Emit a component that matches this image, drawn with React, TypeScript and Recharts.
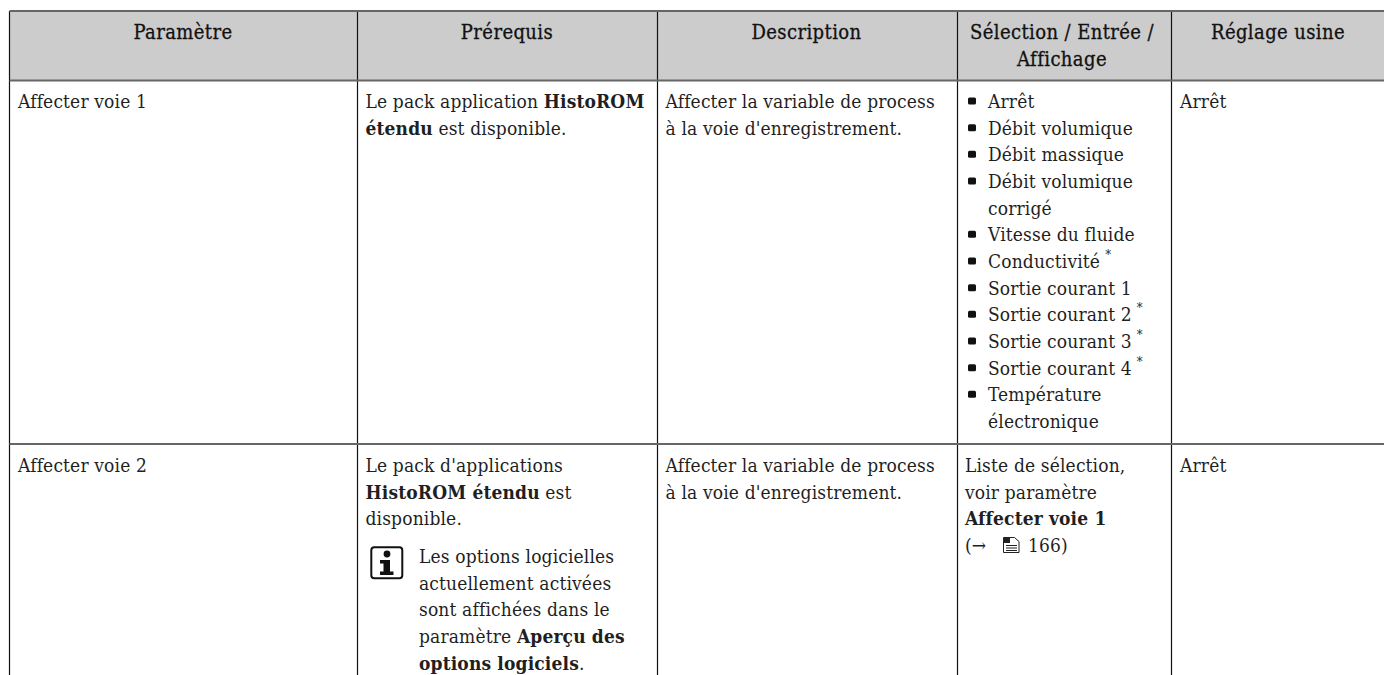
import React from "react";
import { ScatterChart, Scatter, XAxis, YAxis, ReferenceLine, ReferenceArea, ReferenceDot } from "recharts";

// table text, ** marks bold and ^ marks the superscript asterisk
const headerLabels = [
    ["Paramètre"],
    ["Prérequis"],
    ["Description"],
    ["Sélection / Entrée /", "Affichage"],
    ["Réglage usine"],
];
const row1Param = ["Affecter voie 1"];
const row1Prereq = ["Le pack application **HistoROM**", "**étendu** est disponible."];
const row1Desc = ["Affecter la variable de process", "à la voie d'enregistrement."];
const row1Options = [
    "Arrêt",
    "Débit volumique",
    "Débit massique",
    "Débit volumique",
    "corrigé",
    "Vitesse du fluide",
    "Conductivité^",
    "Sortie courant 1",
    "Sortie courant 2^",
    "Sortie courant 3^",
    "Sortie courant 4^",
    "Température",
    "électronique",
];
const row1ContinuedLines = [4, 12];
const row1Default = ["Arrêt"];
const row2Param = ["Affecter voie 2"];
const row2Prereq = ["Le pack d'applications", "**HistoROM étendu** est", "disponible."];
const row2Note = ["Les options logicielles", "actuellement activées", "sont affichées dans le", "paramètre **Aperçu des**", "**options logiciels**."];
const row2Desc = ["Affecter la variable de process", "à la voie d'enregistrement."];
const row2Selection = ["Liste de sélection,", "voir paramètre", "**Affecter voie 1**", "(→"];
const row2PageRef = ["166)"];
const row2Default = ["Arrêt"];

const WIDTH = 1384;
const HEIGHT = 675;
const FONT = "'DejaVu Serif Condensed', 'DejaVu Serif', serif";
const FONT_SIZE = 19;
const LINE = 26.67;
const columnEdges = [9.5, 357.5, 657.5, 957.5, 1171.5];
const headerCentres = [183, 507, 806.5, 1062, 1278];
const TOP = 11;
const HEADER_BOTTOM = 80.5;
const ROW_BOTTOM = 444;
const HEADER_BASE = 39;
const ROW1_BASE = 108;
const ROW2_BASE = 472;
const NOTE_BASE = 563;

type Cell = { x: number; y: number; text: string };

const place = (lines: string[], x: number, base: number): Cell[] =>
    lines.map((text, i) => ({ x, y: base + i * LINE, text }));

const headerCells: Cell[] = headerLabels.flatMap((lines, i) => place(lines, headerCentres[i], HEADER_BASE));
const optionCells = place(row1Options, 988, ROW1_BASE);
const bulletCells = optionCells.filter((_, i) => !row1ContinuedLines.includes(i)).map((c) => ({ ...c, x: 972 }));
const bodyCells: Cell[] = [
    ...place(row1Param, 18, ROW1_BASE),
    ...place(row1Prereq, 365.5, ROW1_BASE),
    ...place(row1Desc, 665.5, ROW1_BASE),
    ...optionCells,
    ...place(row1Default, 1180, ROW1_BASE),
    ...place(row2Param, 18, ROW2_BASE),
    ...place(row2Prereq, 365.5, ROW2_BASE),
    ...place(row2Note, 419, NOTE_BASE),
    ...place(row2Desc, 665.5, ROW2_BASE),
    ...place(row2Selection, 965, ROW2_BASE),
    ...place(row2PageRef, 1028, ROW2_BASE + 3 * LINE),
    ...place(row2Default, 1180, ROW2_BASE),
];

const spans = (text: string) => {
    const out: React.ReactNode[] = [];
    text.split("**").forEach((part, i) => {
        const bold = i % 2 === 1;
        const star = part.endsWith("^");
        const clean = star ? part.slice(0, -1) : part;
        if (clean) {
            out.push(
                <tspan key={i} fontWeight={bold ? 700 : 400}>
                    {clean}
                </tspan>
            );
        }
        if (star) {
            out.push(
                <tspan key={i + "s"} dx={5} dy={-9} fontSize={13}>
                    *
                </tspan>
            );
        }
    });
    return out;
};

const BodyText = (props: any) => (
    <text x={props.cx} y={props.cy} fontFamily={FONT} fontSize={FONT_SIZE} letterSpacing={0.15} fill="#1f1f1f">
        {spans(props.payload.text)}
    </text>
);

const HeaderText = (props: any) => (
    <text x={props.cx} y={props.cy} textAnchor="middle" fontFamily={FONT} fontSize={20} letterSpacing={0.4} fill="#111" stroke="#111" strokeWidth={0.3}>
        {props.payload.text}
    </text>
);

const Bullet = (props: any) => (
    <rect x={props.cx - 4} y={props.cy - 10.5} width={8} height={7} rx={1.5} fill="#111" />
);

const InfoIcon = (props: any) => (
    <g transform={`translate(${props.cx},${props.cy})`}>
        <rect x={0.8} y={0.8} width={31} height={31} rx={3} fill="#fff" stroke="#111" strokeWidth={2} />
        <circle cx={16.5} cy={7.5} r={3.4} fill="#111" />
        <path d="M9.5 13.5h10v11.5h3.5v3.5H9.5V25h3.5v-8H9.5z" fill="#111" />
    </g>
);

const DocIcon = (props: any) => (
    <g transform={`translate(${props.cx},${props.cy})`} fill="none" stroke="#222" strokeWidth={1}>
        <path d="M0.5 0.5h11l4.5 4v11H0.5z" fill="#fff" />
        <path d="M1 1h6v5H1z" fill="#222" stroke="none" />
        <path d="M3 8.5h11M3 11h11M3 13.5h11" />
    </g>
);

const App = () => (
    <div style={{ position: "absolute", left: 0, top: 0 }}>
        <ScatterChart width={WIDTH} height={HEIGHT} margin={{ top: 0, right: 0, bottom: 0, left: 0 }}>
            <XAxis type="number" dataKey="x" domain={[0, WIDTH]} hide />
            <YAxis type="number" dataKey="y" domain={[0, HEIGHT]} reversed hide />
            <ReferenceArea x1={columnEdges[0]} x2={WIDTH} y1={TOP} y2={HEADER_BOTTOM} fill="#cccccc" fillOpacity={1} stroke="none" />
            {columnEdges.map((x) => (
                <ReferenceLine key={x} segment={[{ x, y: TOP }, { x, y: HEIGHT }]} stroke="#111" strokeWidth={1.2} />
            ))}
            {[TOP, HEADER_BOTTOM, ROW_BOTTOM].map((y) => (
                <ReferenceLine key={y} segment={[{ x: columnEdges[0], y }, { x: WIDTH, y }]} stroke="#666" strokeWidth={2} />
            ))}
            <Scatter data={headerCells} shape={HeaderText} isAnimationActive={false} />
            <Scatter data={bodyCells} shape={BodyText} isAnimationActive={false} />
            <Scatter data={bulletCells} shape={Bullet} isAnimationActive={false} />
            <ReferenceDot x={370.5} y={546.5} r={1} shape={InfoIcon} />
            <ReferenceDot x={1003} y={537} r={1} shape={DocIcon} />
        </ScatterChart>
    </div>
);

export default App;
